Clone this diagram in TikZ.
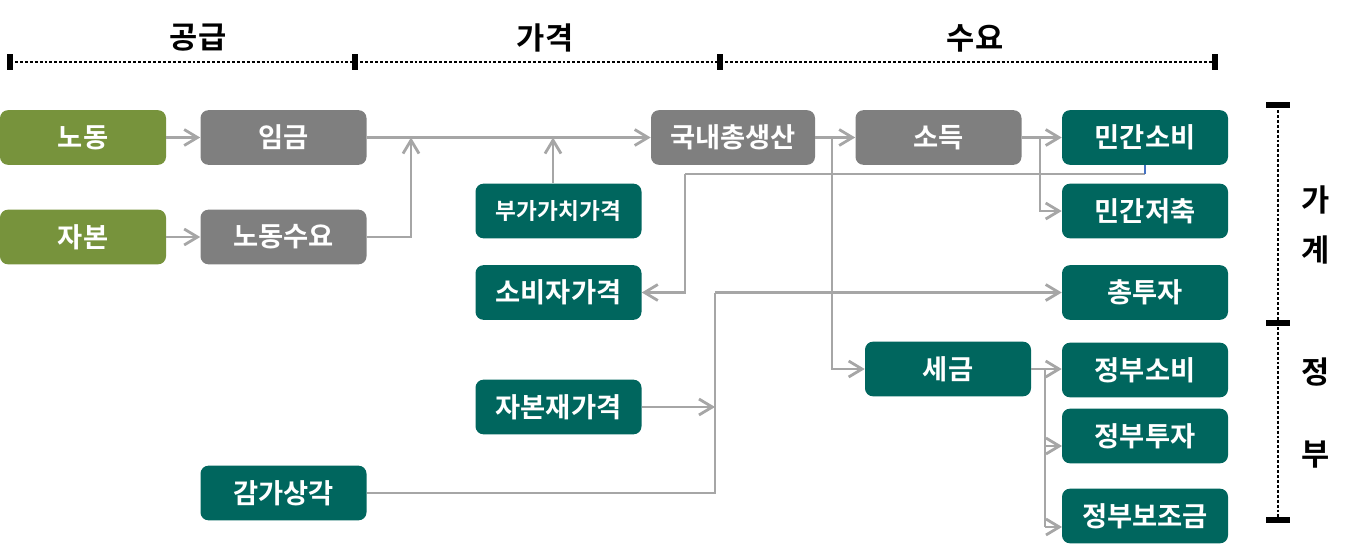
\documentclass[tikz,border=0pt]{standalone}
\usepackage{fontspec}
\setmainfont{Noto Sans CJK KR}[BoldFont={Noto Sans CJK KR Bold}]
\usetikzlibrary{arrows.meta}
\definecolor{colive}{HTML}{77933C}
\definecolor{cgray}{HTML}{7F7F7F}
\definecolor{cteal}{HTML}{00665E}
\definecolor{cline}{HTML}{A6A6A6}
\definecolor{cblue}{HTML}{4472C4}
\tikzset{
  box/.style={rounded corners=6pt, minimum width=124.5pt, minimum height=41pt, inner sep=0pt,
    text=white, font=\fontsize{20.5}{22}\selectfont\bfseries},
  gbox/.style={box, fill=colive},
  ybox/.style={box, fill=cgray},
  tbox/.style={box, fill=cteal},
  arr/.style={draw=cline, line width=2.1pt, -{Straight Barb[length=10pt,width=12pt]}},
  conn/.style={draw=cline, line width=2.1pt},
  head/.style={font=\fontsize{23}{25}\selectfont\bfseries, text=black, inner sep=0pt},
  dots/.style={line width=2.2pt, dash pattern=on 2.2pt off 1.5pt},
  tick/.style={line width=3.8pt}
}
\begin{document}
\begin{tikzpicture}[x=0.75pt, y=-0.75pt]
\useasboundingbox (0,0) rectangle (1370,546);
% headings
\node[head] (h1) at (198,38) {공급};
\node[head] (h2) at (545,38) {가격};
\node[head] (h3) at (975,38) {수요};
\draw[dots] (10,62) -- (1215,62);
\foreach \xx in {10,355,720,1215} \draw[tick] (\xx,54) -- (\xx,70);
% right bracket
\draw[dots] (1278,105) -- (1278,520);
\foreach \yy in {105,323,520} \draw[tick] (1266,\yy) -- (1290,\yy);
\node[head] (r1) at (1316,200) {가};
\node[head] (r2) at (1316,250) {계};
\node[head] (r3) at (1316,372) {정};
\node[head] (r4) at (1316,455) {부};
% boxes
\node[gbox] (lab) at (83,137.5) {노동};
\node[ybox] (wage) at (283.5,137.5) {임금};
\node[gbox] (cap) at (83,237) {자본};
\node[ybox] (ldem) at (283.5,237) {노동수요};
\node[ybox, minimum width=123pt] (gdp) at (733,137.5) {국내총생산};
\node[tbox, font=\fontsize{17}{19}\selectfont\bfseries] (vap) at (558.5,211) {부가가치가격};
\node[tbox] (cpp) at (558.5,292.5) {소비자가격};
\node[tbox] (kp) at (558.5,407) {자본재가격};
\node[tbox] (dep) at (283.5,493) {감가상각};
\node[ybox] (inc) at (938.5,137.5) {소득};
\node[tbox] (pc) at (1145,137.5) {민간소비};
\node[tbox] (ps) at (1145,211) {민간저축};
\node[tbox] (inv) at (1145,292.5) {총투자};
\node[tbox] (tax) at (948,369) {세금};
\node[tbox] (gc) at (1145,370) {정부소비};
\node[tbox] (gi) at (1145,436) {정부투자};
\node[tbox] (gs) at (1145,516) {정부보조금};
% junctions
\coordinate (j1) at (411,137.5);
\coordinate (j2) at (553,137.5);
\coordinate (j3) at (832,137.5);
\coordinate (j4) at (1040,137.5);
\coordinate (c1) at (1145,174);
\coordinate (c2) at (685,174);
\coordinate (j5) at (715,292.5);
\coordinate (j6) at (715,407);
\coordinate (j7) at (1045,369);
\coordinate (e1) at (1062,446);
\coordinate (e2) at (1062,527);
% connectors
\draw[arr] (lab) -- (wage);
\draw[arr] (cap) -- (ldem);
\draw[arr] (wage) -- (gdp);
\draw[arr] (ldem.east) -| (j1);
\draw[arr] (vap.north -| j2) -- (j2);
\draw[arr] (gdp) -- (inc);
\draw[arr] (j3) |- (tax.west);
\draw[arr] (inc) -- (pc);
\draw[arr] (j4) |- (ps.west);
\draw[conn] (c2) -- (c1);
\draw[arr] (c2) |- (cpp.east);
\draw[draw=cblue, line width=2.1pt] (pc.south) -- (c1);
\draw[conn] (dep.east) -| (j5);
\draw[arr] (j5) -- (inv.west);
\draw[arr] (kp.east) -- (j6);
\draw[arr] (tax.east) -- (tax.east -| gc.west);
\draw[conn] (j7) -- (j7 |- e2);
\draw[arr] (j7 |- e1) -- (e1);
\draw[arr] (j7 |- e2) -- (e2);
\end{tikzpicture}
\end{document}
